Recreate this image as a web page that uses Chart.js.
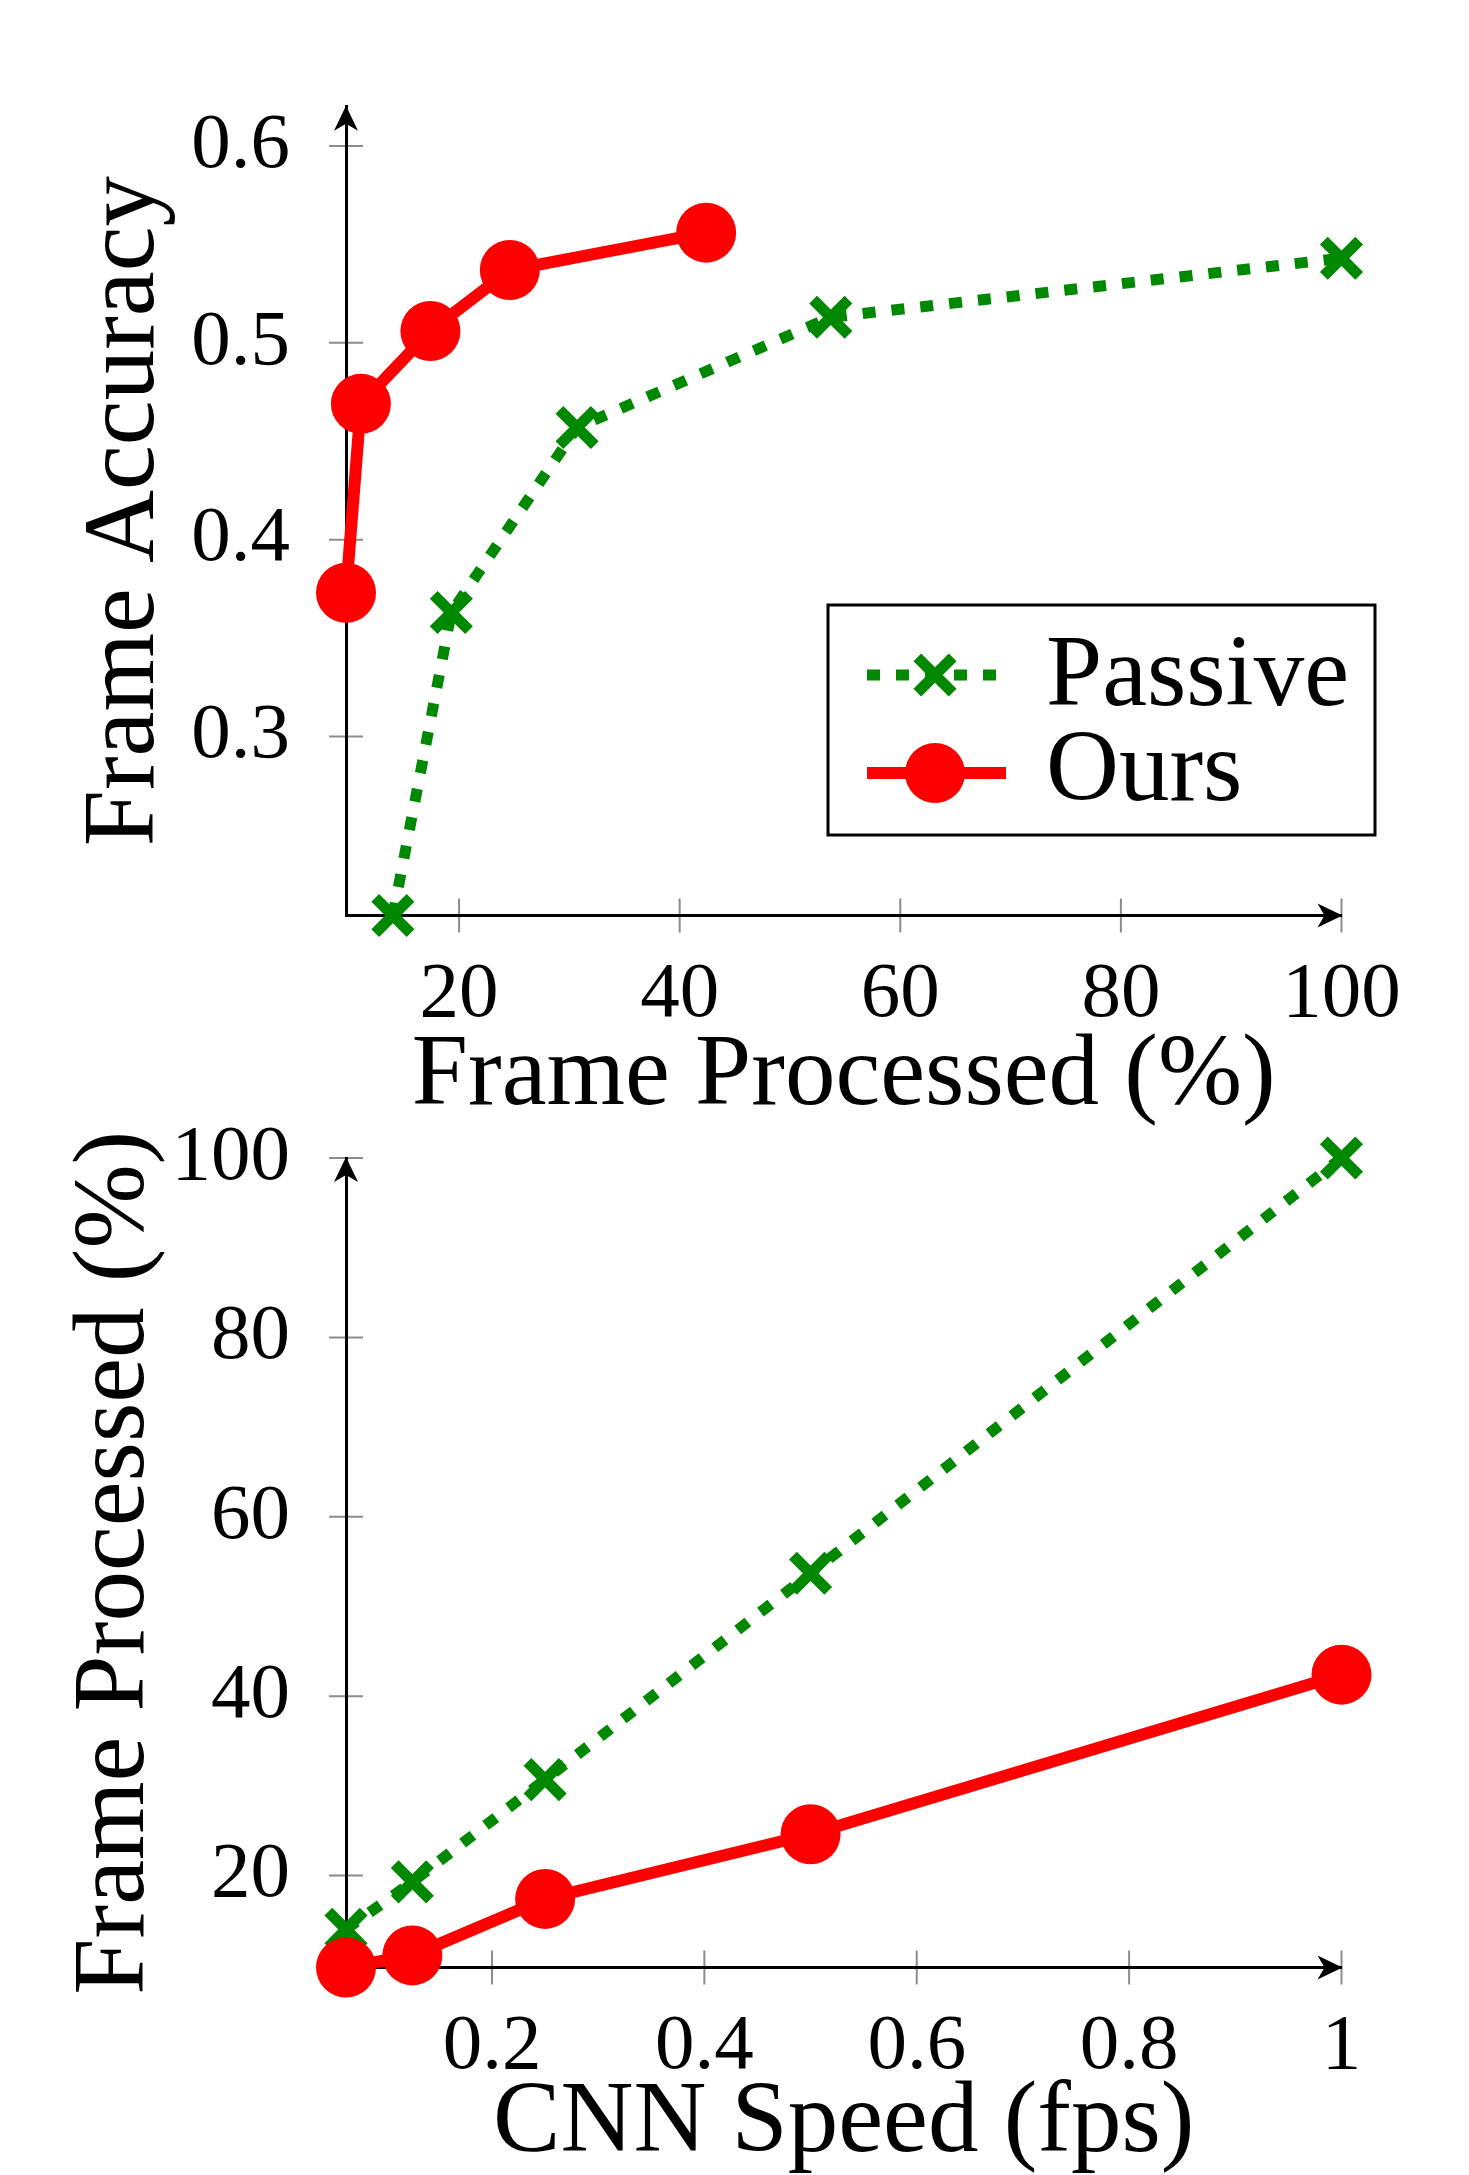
<!DOCTYPE html>
<html><head><meta charset="utf-8">
<script src="https://cdn.jsdelivr.net/npm/chart.js"></script>
<style>
html,body{margin:0;padding:0;background:#fff;}
body{width:1469px;height:2175px;position:relative;overflow:hidden;}
canvas{position:absolute;left:0;}
#c1{top:0;} #c2{top:1100px;}
</style></head><body>
<canvas id="c1" width="1469" height="1140"></canvas>
<canvas id="c2" width="1469" height="1075"></canvas>
<script>
// ---- data ----
const seriesNames = ['Passive', 'Ours'];
const cnnSpeed = [0.0625, 0.125, 0.25, 0.5, 1];
const passiveProcessed = [14.0, 19.3, 30.7, 53.7, 100];
const oursProcessed = [9.75, 11.1, 17.4, 24.6, 42.4];
const passiveAccuracy = [0.209, 0.363, 0.457, 0.513, 0.543];
const oursAccuracy = [0.373, 0.469, 0.506, 0.537, 0.556];
const topXTicks = [20, 40, 60, 80, 100];
const topYTicks = [0.3, 0.4, 0.5, 0.6];
const bottomXTicks = [0.2, 0.4, 0.6, 0.8, 1];
const bottomYTicks = [20, 40, 60, 80, 100];
const axisTitles = {
  topX: 'Frame Processed (%)', topY: 'Frame Accuracy',
  bottomX: 'CNN Speed (fps)', bottomY: 'Frame Processed (%)'
};

// ---- styles ----
const FONT = '"Liberation Serif", "DejaVu Serif", serif';
const TITLE_SIZE = 101;
const TICK_SIZE = 79;
const GREEN = '#008800';
const RED = '#ff0000';
const PASSIVE_STYLE = {width: 11, dash: [13, 16], radius: 25, markerWidth: 11};
const OURS_STYLE = {width: 12, radius: 30};

function pts(xs, ys) { return xs.map((x, i) => ({x: x, y: ys[i]})); }

function passiveDataset(xs, ys) {
  return {
    label: seriesNames[0], data: pts(xs, ys), showLine: true, tension: 0,
    borderColor: GREEN, backgroundColor: GREEN, borderWidth: PASSIVE_STYLE.width,
    borderDash: PASSIVE_STYLE.dash, borderCapStyle: 'butt',
    pointStyle: 'crossRot', pointRadius: PASSIVE_STYLE.radius, pointHoverRadius: PASSIVE_STYLE.radius,
    pointBorderWidth: PASSIVE_STYLE.markerWidth, pointBorderColor: GREEN, pointBackgroundColor: GREEN,
    clip: false, order: 2
  };
}
function oursDataset(xs, ys) {
  return {
    label: seriesNames[1], data: pts(xs, ys), showLine: true, tension: 0,
    borderColor: RED, backgroundColor: RED, borderWidth: OURS_STYLE.width,
    pointStyle: 'circle', pointRadius: OURS_STYLE.radius, pointHoverRadius: OURS_STYLE.radius,
    pointBorderWidth: 0, pointBorderColor: RED, pointBackgroundColor: RED,
    clip: false, order: 1
  };
}

function xScale(min, max, ticks, title, height, titlePad) {
  return {
    type: 'linear', position: 'bottom', min: min, max: max,
    grid: {display: false},
    border: {display: true, color: '#000', width: 3},
    ticks: {font: {family: FONT, size: TICK_SIZE}, color: '#000', padding: 24, autoSkip: false, maxRotation: 0,
            callback: v => String(v)},
    title: {display: true, text: title, color: '#000', font: {family: FONT, size: TITLE_SIZE, lineHeight: 1},
            padding: {top: 0, bottom: titlePad}},
    afterBuildTicks: s => { s.ticks = ticks.map(v => ({value: v})); },
    afterFit: s => { s.height = height; s.paddingLeft = 0; s.paddingRight = 0; s.paddingTop = 0; s.paddingBottom = 0; }
  };
}
function yScale(min, max, ticks, title, width, titlePad) {
  return {
    type: 'linear', position: 'left', min: min, max: max,
    grid: {display: false},
    border: {display: true, color: '#000', width: 3},
    ticks: {font: {family: FONT, size: TICK_SIZE}, color: '#000', padding: 48, autoSkip: false,
            callback: v => String(v)},
    title: {display: true, text: title, color: '#000', font: {family: FONT, size: TITLE_SIZE, lineHeight: 1},
            padding: {top: titlePad, bottom: 0}},
    afterBuildTicks: s => { s.ticks = ticks.map(v => ({value: v})); },
    afterFit: s => { s.width = width; s.paddingLeft = 0; s.paddingRight = 0; s.paddingTop = 0; s.paddingBottom = 0; }
  };
}

// tick marks crossing the axis lines (drawn under the axis lines)
const tickMarks = {
  id: 'tickMarks',
  beforeDraw(chart) {
    const ctx = chart.ctx, a = chart.chartArea, sx = chart.scales.x, sy = chart.scales.y;
    ctx.save();
    ctx.strokeStyle = '#8c8c8c'; ctx.lineWidth = 2;
    sx.ticks.forEach(t => { const p = sx.getPixelForValue(t.value);
      ctx.beginPath(); ctx.moveTo(p, a.bottom - 17); ctx.lineTo(p, a.bottom + 17); ctx.stroke(); });
    sy.ticks.forEach(t => { const p = sy.getPixelForValue(t.value);
      ctx.beginPath(); ctx.moveTo(a.left - 17, p); ctx.lineTo(a.left + 17, p); ctx.stroke(); });
    ctx.restore();
  }
};
// stealth arrow heads at the axis ends
const arrows = {
  id: 'arrows',
  beforeDatasetsDraw(chart) {
    const ctx = chart.ctx, a = chart.chartArea;
    ctx.save(); ctx.fillStyle = '#000';
    ctx.beginPath();
    ctx.moveTo(a.right + 1, a.bottom); ctx.lineTo(a.right - 24, a.bottom - 12);
    ctx.lineTo(a.right - 17, a.bottom); ctx.lineTo(a.right - 24, a.bottom + 12); ctx.closePath(); ctx.fill();
    ctx.beginPath();
    ctx.moveTo(a.left, a.top - 1); ctx.lineTo(a.left - 12, a.top + 24);
    ctx.lineTo(a.left, a.top + 17); ctx.lineTo(a.left + 12, a.top + 24); ctx.closePath(); ctx.fill();
    ctx.restore();
  }
};
// legend box inside the top plot
const legendBox = {
  id: 'legendBox',
  afterDatasetsDraw(chart) {
    const ctx = chart.ctx;
    const bx = 828, by = 605, bw = 547, bh = 230;
    ctx.save();
    ctx.fillStyle = '#fff'; ctx.fillRect(bx, by, bw, bh);
    ctx.strokeStyle = '#000'; ctx.lineWidth = 3; ctx.strokeRect(bx, by, bw, bh);
    const x0 = 867, x1 = 1002, mx = 935, textX = 1046;
    let y = 675;
    ctx.strokeStyle = GREEN; ctx.lineWidth = PASSIVE_STYLE.width; ctx.lineCap = 'butt';
    ctx.setLineDash(PASSIVE_STYLE.dash);
    ctx.beginPath(); ctx.moveTo(x0, y); ctx.lineTo(x1, y); ctx.stroke();
    ctx.setLineDash([]);
    const o = PASSIVE_STYLE.radius * Math.SQRT1_2;
    ctx.lineWidth = PASSIVE_STYLE.markerWidth;
    ctx.beginPath(); ctx.moveTo(mx - o, y - o); ctx.lineTo(mx + o, y + o);
    ctx.moveTo(mx + o, y - o); ctx.lineTo(mx - o, y + o); ctx.stroke();
    ctx.fillStyle = '#000'; ctx.font = TITLE_SIZE + 'px ' + FONT; ctx.textBaseline = 'alphabetic'; ctx.textAlign = 'left';
    ctx.fillText(seriesNames[0], textX, 705);
    y = 773;
    ctx.strokeStyle = RED; ctx.lineWidth = OURS_STYLE.width;
    ctx.beginPath(); ctx.moveTo(x0, y); ctx.lineTo(x1 + 4, y); ctx.stroke();
    ctx.fillStyle = RED; ctx.beginPath(); ctx.arc(mx, y, OURS_STYLE.radius, 0, Math.PI * 2); ctx.fill();
    ctx.fillStyle = '#000';
    ctx.fillText(seriesNames[1], textX, 800);
    ctx.restore();
  }
};

const common = {
  responsive: false, animation: false, events: [],
  plugins: {legend: {display: false}, tooltip: {enabled: false}}
};

new Chart(document.getElementById('c1'), {
  type: 'scatter',
  data: {datasets: [passiveDataset(passiveProcessed, passiveAccuracy), oursDataset(oursProcessed, oursAccuracy)]},
  options: Object.assign({}, common, {
    layout: {padding: {top: 106.7, right: 127.5, bottom: 0, left: 0}},
    scales: {
      x: xScale(Math.min(...oursProcessed), 100, topXTicks, axisTitles.topX, 224.5, 12),
      y: yScale(Math.min(...passiveAccuracy), 0.62, topYTicks, axisTitles.topY, 346, 76)
    }
  }),
  plugins: [tickMarks, arrows, legendBox]
});

new Chart(document.getElementById('c2'), {
  type: 'scatter',
  data: {datasets: [passiveDataset(cnnSpeed, passiveProcessed), oursDataset(cnnSpeed, oursProcessed)]},
  options: Object.assign({}, common, {
    layout: {padding: {top: 58, right: 127.5, bottom: 0, left: 0}},
    scales: {
      x: xScale(Math.min(...cnnSpeed), 1, bottomXTicks, axisTitles.bottomX, 207.5, 0),
      y: yScale(Math.min(...oursProcessed), 100, bottomYTicks, axisTitles.bottomY, 346, 66)
    }
  }),
  plugins: [tickMarks, arrows]
});
</script>
</body></html>
